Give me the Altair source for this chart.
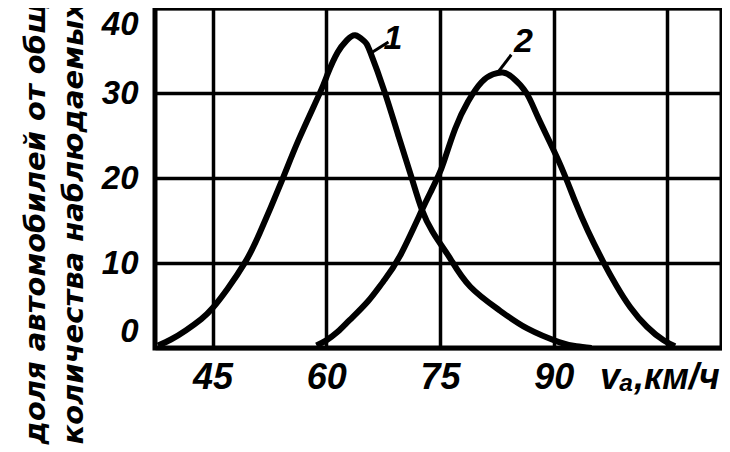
import altair as alt
import pandas as pd

# curve 1
c1_x = [37.8, 39.5, 41.5, 43.5, 45.0, 47.0, 49.3, 51.2, 54.1, 56.4, 59.2, 60.2, 61.5, 62.7, 63.8, 65.0, 65.8, 67.7, 69.5, 71.2, 72.6, 74.0, 75.4, 76.5, 79.0, 82.9, 86.5, 90.7, 93.0, 95.0]
c1_y = [0.3, 1.0, 2.1, 3.4, 4.7, 7.0, 10.1, 13.5, 19.6, 24.6, 30.1, 32.3, 34.8, 36.2, 36.8, 36.1, 34.8, 30.1, 25.0, 20.2, 16.3, 13.7, 11.8, 10.3, 7.2, 4.4, 2.3, 0.7, 0.2, 0]
# curve 2
c2_x = [58.7, 60.0, 61.5, 63.1, 65.5, 67.5, 69.7, 72.6, 73.9, 74.8, 75.5, 77.0, 78.7, 80.5, 82.0, 83.3, 84.6, 86.4, 88.0, 90.7, 92.8, 94.5, 96.5, 98.3, 100.1, 102.3, 104.5, 106.0]
c2_y = [0.3, 0.9, 1.9, 3.3, 5.5, 7.8, 10.8, 16.2, 18.6, 20.3, 21.9, 25.8, 29.0, 31.3, 32.2, 32.4, 31.8, 30.0, 27.0, 21.9, 17.3, 13.8, 10.2, 7.3, 4.8, 2.5, 0.9, 0.2]

x_ticks = [45, 60, 75, 90, 105]
y_ticks = [0, 10, 20, 30, 40]
x_unit_label = "vₐ,км/ч"
y_title = ["доля автомобилей от общего", "количества наблюдаемых, %"]

# curve labels
lab_text = ["1", "2"]
lab_x = [68.8, 86.0]
lab_y = [36.4, 36.0]
lead_x = [65.9, 82.6]
lead_y = [34.7, 32.4]
lead_x2 = [68.2, 84.4]
lead_y2 = [36.0, 34.5]

FONT = "Liberation Sans"

curves = pd.DataFrame({
    "v": c1_x + c2_x,
    "p": c1_y + c2_y,
    "c": ["1"] * len(c1_x) + ["2"] * len(c2_x),
    "o": list(range(len(c1_x))) + list(range(len(c2_x))),
})
labels = pd.DataFrame({"t": lab_text, "x": lab_x, "y": lab_y,
                       "lx": lead_x, "ly": lead_y, "lx2": lead_x2, "ly2": lead_y2})

xs = alt.Scale(domain=[37.4, 112.2], nice=False, zero=False)
ys = alt.Scale(domain=[0, 40], nice=False)

xaxis = alt.Axis(values=x_ticks, grid=True, gridColor="black", gridWidth=3.5, gridOpacity=1,
                 domain=False, ticks=False, labelFont=FONT, labelFontSize=36,
                 labelFontWeight="bold", labelFontStyle="italic", labelColor="black",
                 labelPadding=12, title=None,
                 labelOffset={"condition": {"test": "datum.value == 105", "value": -8}, "value": 0},
                 labelExpr=f"datum.value == 105 ? '{x_unit_label}' : datum.label")
yaxis = alt.Axis(values=y_ticks, grid=True, gridColor="black", gridWidth=3.5, gridOpacity=1,
                 domain=False, ticks=False, labelFont=FONT, labelFontSize=33,
                 labelFontWeight="bold", labelFontStyle="italic", labelColor="black",
                 labelPadding=17, labelFlush=True, title=y_title,
                 titleFont="DejaVu Sans", titleFontSize=29, titleFontWeight="bold",
                 titleFontStyle="italic", titleColor="black", titleAngle=270,
                 titleAnchor="start", titleAlign="left", titleBaseline="middle",
                 titleX=-120, titleY=436, titleLineHeight=38)

lines = alt.Chart(curves).mark_line(color="black", strokeWidth=6, interpolate="natural", clip=True).encode(
    x=alt.X("v:Q", scale=xs, axis=xaxis),
    y=alt.Y("p:Q", scale=ys, axis=yaxis),
    detail="c:N",
    order="o:Q",
)
leaders = alt.Chart(labels).mark_rule(color="black", strokeWidth=3).encode(
    x=alt.X("lx:Q", scale=xs), y=alt.Y("ly:Q", scale=ys),
    x2="lx2:Q", y2="ly2:Q",
)
texts = alt.Chart(labels).mark_text(font=FONT, fontSize=34, fontWeight="bold", fontStyle="italic",
                                    color="black", align="center", baseline="middle").encode(
    x=alt.X("x:Q", scale=xs), y=alt.Y("y:Q", scale=ys), text="t:N",
)

chart = alt.layer(lines, leaders, texts).properties(
    width=567, height=340,
    autosize=alt.AutoSizeParams(type="none"),
    padding={"left": 147, "top": 0, "right": 0, "bottom": 100},
    background="white",
).configure_view(stroke="black", strokeWidth=5)

chart.save("out.html", embed_options={"renderer": "svg", "actions": False})
